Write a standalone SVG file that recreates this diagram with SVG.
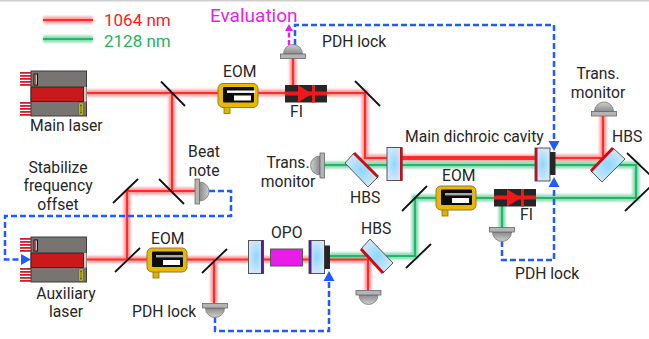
<svg xmlns="http://www.w3.org/2000/svg" width="649" height="339" viewBox="0 0 649 339">
<style>
text{font-family:"Roboto","Liberation Sans",sans-serif;font-size:15.7px;fill:#262626}
.c{text-anchor:middle}
.rg,.gg,.r,.g,.b,.m,.mir{fill:none}
.rg{stroke:#ff7a7a;stroke-width:7;opacity:.7;filter:url(#soft)}
.gg{stroke:#5cd096;stroke-width:7;opacity:.7;filter:url(#soft)}
.r{stroke:#ff2a2a;stroke-width:2.2}
.g{stroke:#23b56a;stroke-width:2.2}
.b{stroke:#1f5cff;stroke-width:2.5;stroke-dasharray:6 3;marker-end:url(#ab)}
.m{stroke:#e81ee8;stroke-width:2.4;stroke-dasharray:5 2.5;marker-end:url(#am)}
.mir{stroke:#111;stroke-width:1.8}
.glass{fill:url(#gl);stroke:#555;stroke-width:1}
.pzt{fill:#262626}
</style>
<defs>
<filter id="soft" x="-10%" y="-10%" width="120%" height="120%" filterUnits="objectBoundingBox"><feGaussianBlur stdDeviation="1"/></filter>
<radialGradient id="gl"><stop offset="0" stop-color="#8ed6ff"/><stop offset="1" stop-color="#cfe8f8"/></radialGradient>
<linearGradient id="dm" x1="0" y1="0" x2="0" y2="1"><stop offset="0" stop-color="#d0d0d0"/><stop offset="1" stop-color="#8a8a8a"/></linearGradient>
<marker id="ab" markerUnits="userSpaceOnUse" markerWidth="11" markerHeight="12" refX="0" refY="6" orient="auto"><path d="M0 0.500L10 6L0 11.500Z" fill="#1f5cff"/></marker>
<marker id="am" markerUnits="userSpaceOnUse" markerWidth="8" markerHeight="8" refX="0" refY="4" orient="auto"><path d="M0 0L7 4L0 8Z" fill="#e81ee8"/></marker>
<g id="det">
<path d="M-9.500 0A9.500 9.500 0 0 1 9.500 0Z" fill="url(#dm)" stroke="#777" stroke-width=".8"/>
<rect x="-12.500" y="0" width="25" height="4.500" fill="#b4b4b4" stroke="#666" stroke-width=".8"/>
</g>
<g id="laser">
<g fill="#d21f2a">
<rect x="-11" y="1" width="11" height="1.800"/><rect x="-11" y="4" width="11" height="1.800"/><rect x="-11" y="7" width="11" height="1.800"/><rect x="-11" y="10" width="11" height="1.800"/><rect x="-11" y="13" width="11" height="1.800"/>
<rect x="-11" y="31" width="11" height="1.800"/><rect x="-11" y="34" width="11" height="1.800"/><rect x="-11" y="37" width="11" height="1.800"/><rect x="-11" y="40" width="11" height="1.800"/><rect x="-11" y="43" width="11" height="1.800"/>
</g>
<rect x="0" y="0" width="55.500" height="45" fill="#787472" stroke="#3c3c3c" stroke-width="1"/>
<rect x="0" y="16" width="52.500" height="14.500" fill="#c81a1a" stroke="#222" stroke-width=".8"/>
<rect x="53" y="16" width="2.500" height="14.500" fill="#cfcfcf"/>
<rect x="2.500" y="2.500" width="4.500" height="12" fill="#111"/>
<rect x="3.500" y="3.500" width="2.500" height="10" fill="#c8c8c8"/>
<rect x="3.500" y="3.500" width="1.200" height="10" fill="#c81a1a"/>
<rect x="48" y="32" width="4" height="12" fill="#e8e000" stroke="#555" stroke-width=".6"/>
<path d="M49 34H51M50 34V42M49 42H51" stroke="#222" fill="none" stroke-width=".8"/>
</g>
<g id="eom">
<rect x="6" y="23" width="6" height="7" fill="#e3b200" stroke="#8a6f00" stroke-width=".8"/>
<rect x="0" y="0" width="40" height="24" rx="5" fill="#e9b800" stroke="#8a7a40" stroke-width="1"/>
<rect x="5" y="3.500" width="31" height="15.500" rx="1" fill="#0c0c0c"/>
<rect x="9" y="7" width="28" height="2.400" fill="currentColor"/>
<rect x="16" y="12" width="17" height="5" fill="#fff"/>
</g>
<g id="fi">
<rect x="0" y="0" width="42" height="17.500" fill="#262626"/>
<rect x="0" y="6.500" width="42" height="4" fill="#f01818"/>
<path d="M13 0L27 8.750L13 17.500Z" fill="#f01818"/>
<rect x="27" y="0" width="3" height="17.500" fill="#f01818"/>
</g>
</defs>
<rect width="649" height="339" fill="#fff"/>
<rect x="0" y="0" width="649" height="1.500" fill="#cfcfcf"/>

<g id="connectors">
<path class="rg" d="M43 20H93M86 93H365V158H603V113M172 93V191M127 191H195M87 259.500H368V290M127 191V259M214 259V303M293 93V58"/>
<path class="gg" d="M43 39H93M322 165H636V198H415V256H330M502 198V228"/>
<path class="r" d="M43 20H93M86 93H365V158H603V113M172 93V191M127 191H195M87 259.500H368V290M127 191V259M214 259V303M293 93V58"/>
<path class="r" style="stroke-width:4" d="M400 158H535"/>
<path class="g" d="M43 39H93M322 165H636V198H415V256H330M502 198V228"/>
<path class="m" d="M289 45V31"/>
<path class="b" d="M295 45V25H554V141"/>
<path class="b" d="M502 241V260H554V187"/>
<path class="b" d="M215 317V331H329V281"/>
<path class="b" d="M209 191H231V216H5V259.500H21"/>
</g>

<g id="main-laser"><use href="#laser" x="31" y="71"/></g>
<g id="aux-laser"><use href="#laser" x="31" y="237"/></g>
<g id="mirror-1"><path class="mir" d="M161 81.500L185 106"/></g>
<g id="mirror-2"><path class="mir" d="M355 81L380 106"/></g>
<g id="mirror-3"><path class="mir" d="M159 179L184 204"/></g>
<g id="mirror-4"><path class="mir" d="M113 203L138 179"/></g>
<g id="mirror-5"><path class="mir" d="M115 272L140 248"/></g>
<g id="mirror-6"><path class="mir" d="M202 273L227 249"/></g>
<g id="mirror-7"><path class="mir" d="M402 211L427 186"/></g>
<g id="mirror-8"><path class="mir" d="M406 268L431 244"/></g>
<g id="mirror-9"><path class="mir" d="M627 153L650 175"/></g>
<g id="mirror-10"><path class="mir" d="M625 211L650 187"/></g>

<g id="eom-main" color="#fff"><use href="#eom" x="218" y="83.500"/></g>
<g id="eom-aux" color="#aaa"><use href="#eom" x="147" y="248"/></g>
<g id="eom-green" color="#aaa"><use href="#eom" x="436" y="186"/></g>
<g id="fi-main"><use href="#fi" x="285" y="85"/></g>
<g id="fi-green"><use href="#fi" x="494" y="189"/></g>

<g id="det-eval"><use href="#det" transform="translate(293,54)"/></g>
<g id="det-trans-right"><use href="#det" transform="translate(604,111.500)"/></g>
<g id="det-trans-left"><use href="#det" transform="translate(320,165.500) rotate(-90)"/></g>
<g id="det-beat"><use href="#det" transform="translate(199.500,191.500) rotate(90)"/></g>
<g id="det-opo"><use href="#det" transform="translate(215,308) rotate(180)"/></g>
<g id="det-hbs"><use href="#det" transform="translate(368.500,295) rotate(180)"/></g>
<g id="det-green"><use href="#det" transform="translate(502,232) rotate(180)"/></g>

<g id="hbs-left"><path class="glass" d="M354 153L378 177L368 187L345 163Z"/><path d="M354 153L378 177" stroke="#d00a14" stroke-width="3" fill="none"/></g>
<g id="hbs-right"><path class="glass" d="M613 148L625 159L602 182L591 171Z"/><path d="M613 148L591 171" stroke="#d00a14" stroke-width="3" fill="none"/></g>
<g id="hbs-low"><path class="glass" d="M370 239L393 263L383 273L361 249Z"/><path d="M361 249L383 273" stroke="#d00a14" stroke-width="3" fill="none"/></g>

<g id="cavity-m1"><rect class="glass" x="387" y="147.500" width="15" height="33"/><rect x="400" y="147.500" width="2.500" height="33" fill="#d00a14"/></g>
<g id="cavity-m2"><rect class="glass" x="535" y="148" width="15" height="33"/><rect x="535" y="148" width="2.500" height="33" fill="#d00a14"/><rect class="pzt" x="550" y="152" width="5.500" height="23"/></g>
<g id="opo-m1"><rect class="glass" x="248.500" y="240.500" width="15" height="33"/><rect x="261" y="240.500" width="2.500" height="33" fill="#5a1a9a"/></g>
<g id="opo-crystal"><rect x="270.500" y="249" width="32" height="17" fill="#e81ee8" stroke="#555" stroke-width="1"/></g>
<g id="opo-m2"><rect class="glass" x="309" y="240.500" width="15.500" height="33"/><rect x="309" y="240.500" width="2.500" height="33" fill="#5a1a9a"/><rect class="pzt" x="324.500" y="245.500" width="5.500" height="23.500"/></g>

<g id="labels">
<text x="104" y="26" style="fill:#ff1a1a;font-size:17px">1064 nm</text>
<text x="104" y="47" style="fill:#1db35f;font-size:17px">2128 nm</text>
<text x="210" y="22" style="fill:#e81ee8;font-size:19px">Evaluation</text>
<text x="322" y="47">PDH lock</text>
<text x="223" y="77">EOM</text>
<text x="290" y="117">FI</text>
<text x="30" y="131">Main laser</text>
<text x="204" y="157" class="c">Beat</text>
<text x="204" y="175.500" class="c">note</text>
<text x="58" y="172.500" class="c">Stabilize</text>
<text x="58" y="191" class="c">frequency</text>
<text x="58" y="209.500" class="c">offset</text>
<text x="288" y="168" class="c">Trans.</text>
<text x="288" y="186.500" class="c">monitor</text>
<text x="350" y="203">HBS</text>
<text x="405" y="142">Main dichroic cavity</text>
<text x="612" y="142">HBS</text>
<text x="598" y="79" class="c">Trans.</text>
<text x="598" y="97.500" class="c">monitor</text>
<text x="442" y="181">EOM</text>
<text x="520" y="220">FI</text>
<text x="515" y="279">PDH lock</text>
<text x="151" y="244">EOM</text>
<text x="66" y="298.500" class="c">Auxiliary</text>
<text x="66" y="317" class="c">laser</text>
<text x="132" y="317">PDH lock</text>
<text x="271" y="238">OPO</text>
<text x="361" y="234">HBS</text>
</g>
</svg>
